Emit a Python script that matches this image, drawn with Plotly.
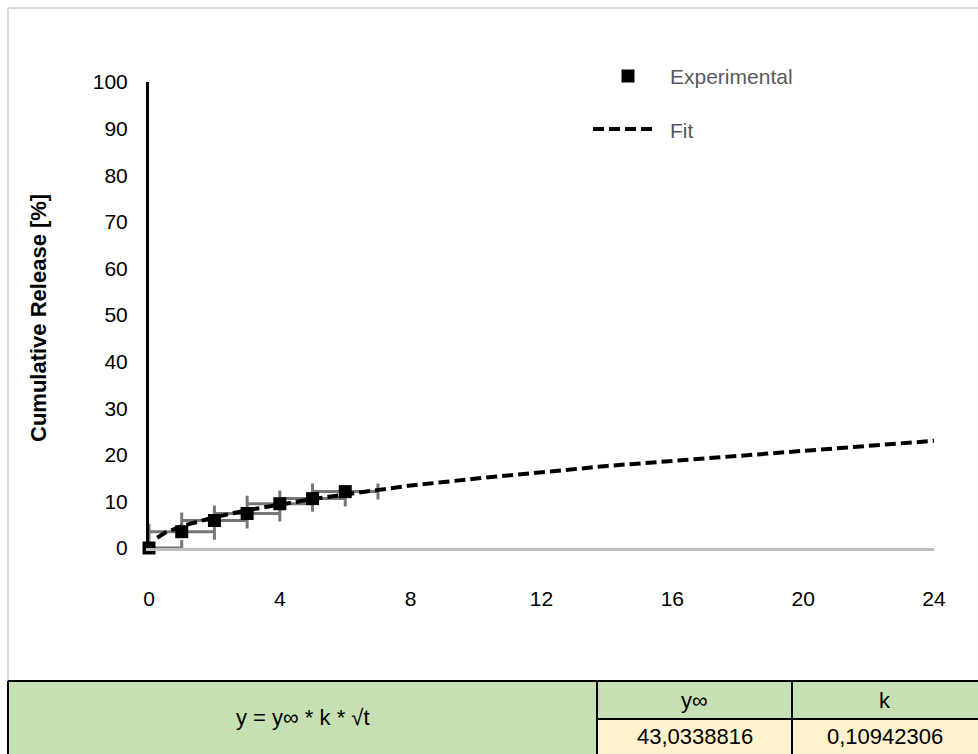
import plotly.graph_objects as go

# ---- data ----
exp_t = [0, 1, 2, 3, 4, 5, 6]
exp_release = [0.0, 3.5, 5.9, 7.4, 9.5, 10.6, 12.1]
exp_t_err = [1, 1, 1, 1, 1, 1, 1]
exp_t_err_minus = [0, 1, 1, 1, 1, 1, 1]

fit_t = [0.25, 0.5, 1, 2, 3, 4, 5, 6, 7, 8, 10, 13, 14, 24]
fit_release = [2.2, 3.3, 4.7, 6.6, 8.1, 9.4, 10.5, 11.5, 12.4, 13.4, 14.9, 16.8, 17.6, 23.0]

x_ticks = [0, 4, 8, 12, 16, 20, 24]
y_ticks = [0, 10, 20, 30, 40, 50, 60, 70, 80, 90, 100]

legend_labels = ["Experimental", "Fit"]
y_title = "Cumulative Release [%]"
table_formula = "y = y∞ * k * √t"
table_headers = ["y∞", "k"]
table_values = ["43,0338816", "0,10942306"]

# ---- layout geometry (pixels) ----
W, H = 978, 754
L, R, T, B = 149, 934, 82, 548
FONT = "Liberation Sans, Arial, sans-serif"


def px(x):
    return (x - L) / (R - L)


def py(y):
    return (B - y) / (B - T)


fig = go.Figure()

# error bars (below fit line)
fig.add_trace(go.Scatter(
    x=exp_t, y=exp_release, mode="markers",
    marker=dict(size=1, color="rgba(0,0,0,0)"),
    error_x=dict(type="data", symmetric=False, array=exp_t_err,
                 arrayminus=exp_t_err_minus, color="#767676",
                 thickness=3, width=8),
    showlegend=False, hoverinfo="skip", cliponaxis=False,
))

fig.add_trace(go.Scatter(
    x=fit_t, y=fit_release, mode="lines", name=legend_labels[1],
    line=dict(color="black", width=4, dash="11px,5px"),
    showlegend=False,
))

fig.add_trace(go.Scatter(
    x=exp_t, y=exp_release, mode="markers", name=legend_labels[0],
    marker=dict(symbol="square", size=13, color="black"),
    showlegend=False, cliponaxis=False,
))

shapes = []
annotations = []


def note(x, y, text, size, color="black", xanchor="center", bold=False, angle=0):
    annotations.append(dict(xref="paper", yref="paper", x=px(x), y=py(y),
                            text=("<b>" + text + "</b>") if bold else text,
                            showarrow=False, xanchor=xanchor, yanchor="middle",
                            textangle=angle,
                            font=dict(family=FONT, size=size, color=color)))


# outer chart border
shapes.append(dict(type="line", xref="paper", yref="paper",
                   x0=px(8), x1=px(978), y0=py(8), y1=py(8),
                   line=dict(color="#D9D9D9", width=2)))
shapes.append(dict(type="line", xref="paper", yref="paper",
                   x0=px(8), x1=px(8), y0=py(8), y1=py(681),
                   line=dict(color="#D9D9D9", width=2)))

# manual legend
shapes.append(dict(type="rect", xref="paper", yref="paper",
                   x0=px(621.5), x1=px(634.5), y0=py(69.5), y1=py(82.5),
                   fillcolor="black", line=dict(width=0)))
shapes.append(dict(type="line", xref="paper", yref="paper",
                   x0=px(593), x1=px(657), y0=py(129), y1=py(129),
                   line=dict(color="black", width=4, dash="11px,5px")))
note(668, 77, legend_labels[0], 21, "#595959", xanchor="left")
note(668, 130, legend_labels[1], 21, "#595959", xanchor="left")

# y-axis title
note(38, 318, y_title, 22, bold=True, angle=-90)

# table
TT, TM, TB = 681, 719, 754
C0, C1, C2, C3 = 8, 597, 792, 978
green = "#C6E0B4"
yellow = "#FFF2CC"
shapes.append(dict(type="rect", xref="paper", yref="paper",
                   x0=px(C0), x1=px(C3), y0=py(TB), y1=py(TT),
                   fillcolor=green, line=dict(width=0), layer="below"))
shapes.append(dict(type="rect", xref="paper", yref="paper",
                   x0=px(C1), x1=px(C3), y0=py(TB), y1=py(TM),
                   fillcolor=yellow, line=dict(width=0), layer="below"))
for (x0, x1, y0, y1) in [(C0, C3, TT, TT), (C1, C3, TM, TM),
                         (C0, C0, TT, TB), (C1, C1, TT, TB), (C2, C2, TT, TB)]:
    shapes.append(dict(type="line", xref="paper", yref="paper",
                       x0=px(x0), x1=px(x1), y0=py(y0), y1=py(y1),
                       line=dict(color="black", width=2)))

note((C0 + C1) / 2, (TT + TB) / 2, table_formula, 22)
note((C1 + C2) / 2, (TT + TM) / 2, table_headers[0], 22)
note((C2 + C3) / 2, (TT + TM) / 2, table_headers[1], 22)
note((C1 + C2) / 2, (TM + TB) / 2, table_values[0], 22)
note((C2 + C3) / 2, (TM + TB) / 2, table_values[1], 22)

fig.update_layout(
    width=W, height=H,
    margin=dict(l=L, r=W - R, t=T, b=H - B, pad=0),
    paper_bgcolor="white", plot_bgcolor="white",
    showlegend=False,
    shapes=shapes, annotations=annotations,
    xaxis=dict(range=[0, 24], tickvals=x_ticks, showgrid=False,
               zeroline=False, showline=True, linecolor="#BFBFBF",
               linewidth=3, ticks="", ticklabelstandoff=30,
               tickfont=dict(family=FONT, size=21, color="black"),
               fixedrange=True),
    yaxis=dict(range=[0, 100], tickvals=y_ticks, showgrid=False,
               zeroline=False, showline=True, linecolor="black",
               linewidth=3, ticks="", ticklabelstandoff=14,
               tickfont=dict(family=FONT, size=21, color="black"),
               fixedrange=True),
)

fig.write_html("out.html")
